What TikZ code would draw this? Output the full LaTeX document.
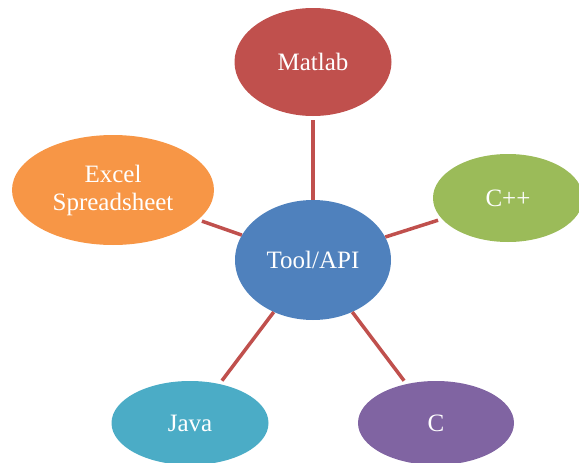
\documentclass[tikz,border=0pt]{standalone}
\usepackage{fontspec}
\setmainfont{Liberation Serif}
\usetikzlibrary{shapes.geometric}
\definecolor{cRed}{HTML}{C0504D}
\definecolor{cGreen}{HTML}{9BBB59}
\definecolor{cOrange}{HTML}{F79646}
\definecolor{cBlue}{HTML}{4F81BD}
\definecolor{cAqua}{HTML}{4BACC6}
\definecolor{cPurple}{HTML}{8064A2}
\tikzset{
  bubble/.style={ellipse, inner sep=0pt, text=white, align=center,
    font=\fontsize{25}{28}\selectfont},
  link/.style={draw=cRed, line width=3.5pt, shorten >=4pt}
}
\begin{document}
\begin{tikzpicture}[x=1pt,y=-1pt]
\useasboundingbox (0,0) rectangle (579,463);
\clip (0,0) rectangle (579,463);
\node[bubble, fill=cBlue, minimum width=156pt, minimum height=120pt] (tool) at (313,260) {Tool/API};
\node[bubble, fill=cRed, minimum width=157pt, minimum height=108pt] (matlab) at (313,62) {Matlab};
\node[bubble, fill=cGreen, minimum width=150pt, minimum height=88pt] (cpp) at (508,198) {C++};
\node[bubble, fill=cOrange, minimum width=202pt, minimum height=110pt] (excel) at (113,190) {Excel\\Spreadsheet};
\node[bubble, fill=cAqua, minimum width=157pt, minimum height=84pt] (java) at (190,423) {Java};
\node[bubble, fill=cPurple, minimum width=156pt, minimum height=84pt] (c) at (436,423) {C};
\draw[link] (tool) -- (matlab);
\draw[link] (tool) -- (cpp);
\draw[link] (tool) -- (excel);
\draw[link] (tool) -- (java);
\draw[link] (tool) -- (c);
\end{tikzpicture}
\end{document}
